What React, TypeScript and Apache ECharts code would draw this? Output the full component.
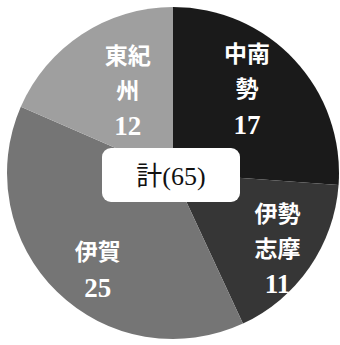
import React, { useEffect, useRef } from "react";
import * as echarts from "echarts";

const categories = ["中南勢", "伊勢志摩", "伊賀", "東紀州"];
const labelLines = [["中南", "勢"], ["伊勢", "志摩"], ["伊賀"], ["東紀", "州"]];
const values = [17, 11, 25, 12];
const colors = ["#1a1a1a", "#363636", "#757575", "#9f9f9f"];
const labelPadding = [
  [0, 18, 12, 0],
  [24, 0, 0, 22],
  [32, 0, 0, 8],
  [26, 0, 0, 34],
];
const totalLabel = "計(65)";

const FONT = "'Liberation Serif', 'DejaVu Serif', 'Noto Sans CJK JP', serif";

export default function App() {
  const ref = useRef<HTMLDivElement>(null);
  useEffect(() => {
    document.body.style.margin = "0";
    const chart = echarts.init(ref.current!, undefined, { renderer: "svg" });
    const cx = 173;
    const cy = 173;
    const r = 166;
    chart.setOption({
      animation: false,
      backgroundColor: "#ffffff",
      series: [
        {
          type: "pie",
          center: [cx, cy],
          radius: [0, r],
          startAngle: 90,
          clockwise: true,
          silent: true,
          z: 1,
          label: { show: false },
          labelLine: { show: false },
          itemStyle: { borderWidth: 0 },
          data: categories.map((c, i) => ({
            name: c,
            value: values[i],
            itemStyle: { color: colors[i] },
          })),
        },
        {
          type: "pie",
          center: [cx, cy],
          radius: [55, r],
          startAngle: 90,
          clockwise: true,
          silent: true,
          z: 2,
          labelLine: { show: false },
          itemStyle: { color: "rgba(0,0,0,0)", borderWidth: 0 },
          label: {
            show: true,
            position: "inside",
            color: "#ffffff",
            align: "center",
            overflow: "none",
            rich: {
              t: {
                color: "#ffffff",
                fontFamily: FONT,
                fontSize: 23,
                fontWeight: "bold",
                lineHeight: 35,
              },
              n: {
                color: "#ffffff",
                fontFamily: FONT,
                fontSize: 27,
                fontWeight: "bold",
                lineHeight: 35,
              },
            },
          },
          data: categories.map((c, i) => ({
            name: c,
            value: values[i],
            label: {
              formatter:
                labelLines[i].map((l) => `{t|${l}}`).join("\n") +
                `\n{n|${values[i]}}`,
              padding: labelPadding[i],
            },
          })),
        },
      ],
      graphic: [
        {
          type: "group",
          x: 171,
          y: 175,
          z: 100,
          children: [
            {
              type: "rect",
              z: 100,
              shape: { x: -69, y: -27, width: 138, height: 54, r: 9 },
              style: { fill: "#ffffff" },
            },
            {
              type: "text",
              z: 101,
              x: 0,
              y: 1,
              style: {
                text: totalLabel,
                fill: "#111111",
                font: `26px ${FONT}`,
                textAlign: "center",
                textVerticalAlign: "middle",
              },
            },
          ],
        },
      ],
    });
    return () => chart.dispose();
  }, []);
  return <div ref={ref} style={{ width: 340, height: 345 }} />;
}
